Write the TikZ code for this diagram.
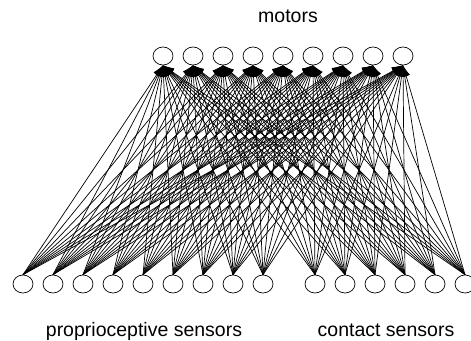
\documentclass[tikz,border=0pt]{standalone}
\usepackage{fontspec}
\setmainfont{Liberation Sans}
\usetikzlibrary{arrows.meta,shapes.geometric}
\begin{document}
\begin{tikzpicture}[x=1pt,y=-1pt,
  unit/.style={draw,ellipse,minimum width=20pt,minimum height=18pt,inner sep=0pt,line width=0.7pt},
  link/.style={line width=0.7pt,-{Latex[length=11pt,width=8pt]}},
  caption/.style={font=\fontsize{19.5}{22}\selectfont,anchor=base,inner sep=0pt}]
\useasboundingbox (0,0) rectangle (471,340);

% output layer
\foreach \i in {1,...,9}
  \node[unit] (m\i) at ({133+30*\i},56) {};

% input layer
\foreach \i in {1,...,9}
  \node[unit] (p\i) at ({-7+30*\i},284) {};
\foreach \i in {1,...,6}
  \node[unit] (c\i) at ({285+30*\i},284) {};

% full connections, top of each sensor to bottom of each motor
\foreach \j in {1,...,9} {
  \foreach \i in {1,...,9}
    \draw[link] (p\i.north) -- (m\j.south);
  \foreach \i in {1,...,6}
    \draw[link] (c\i.north) -- (m\j.south);
}

\node[caption] (mlabel) at (288,23) {motors};
\node[caption] (plabel) at (144,336) {proprioceptive sensors};
\node[caption] (clabel) at (386,336) {contact sensors};

\end{tikzpicture}
\end{document}
